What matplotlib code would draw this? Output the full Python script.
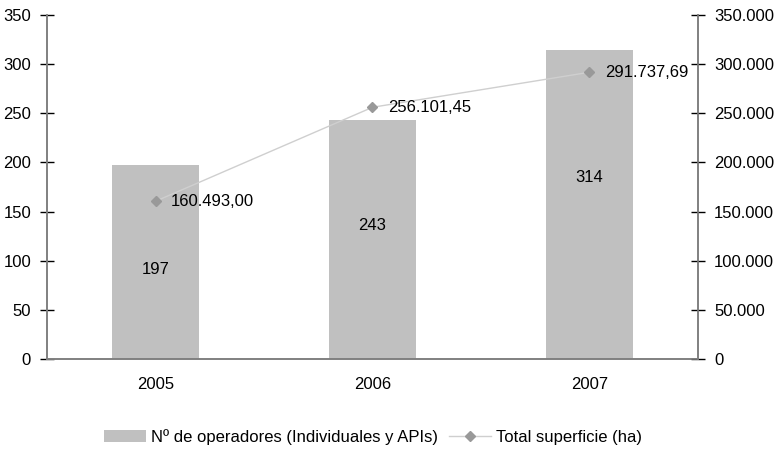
import numpy as np
import matplotlib.pyplot as plt
from matplotlib.ticker import FuncFormatter

plt.rcParams['font.family'] = ['Liberation Sans', 'DejaVu Sans']
plt.rcParams['font.size'] = 12

years = ['2005', '2006', '2007']
operadores = [197, 243, 314]
superficie = [160493.00, 256101.45, 291737.69]
superficie_txt = ['160.493,00', '256.101,45', '291.737,69']
# where the count labels sit inside the bars (left axis units)
op_label_y = [91, 136, 185]

grey = '#808080'

fig = plt.figure(figsize=(7.81, 4.5), dpi=100)
ax = fig.add_axes([0.0602, 0.2022, 0.8335, 0.7645])
ax2 = ax.twinx()

x = np.arange(len(years))
bars = ax.bar(x, operadores, width=0.4, color='#c0c0c0', zorder=1,
              label='Nº de operadores (Individuales y APIs)')
for xi, v, ly in zip(x, operadores, op_label_y):
    ax.text(xi, ly, str(v), ha='center', va='center', fontsize=12)

line, = ax2.plot(x, superficie, color='#cfcfcf', lw=1.0, marker='D',
                 markersize=5, markerfacecolor='#999999',
                 markeredgecolor='#999999', label='Total superficie (ha)')
for xi, v, t in zip(x, superficie, superficie_txt):
    ax2.text(xi + 0.07, v, t, ha='left', va='center', fontsize=12)

ax.set_xlim(-0.5, 2.5)
ax.set_ylim(0, 350)
ax.set_yticks(np.arange(0, 351, 50))
ax2.set_ylim(0, 350000)
ax2.set_yticks(np.arange(0, 350001, 50000))
ax2.yaxis.set_major_formatter(FuncFormatter(
    lambda v, p: '0' if v == 0 else '{:,.0f}'.format(v).replace(',', '.')))

ax.set_xticks(x)
ax.set_xticklabels(years)

for a in (ax, ax2):
    a.spines['top'].set_visible(False)
    for s in ('left', 'right', 'bottom'):
        a.spines[s].set_color(grey)
        a.spines[s].set_linewidth(1.2)
    a.tick_params(axis='y', direction='inout', length=10, width=1,
                  color='#000000', labelsize=12, pad=6.5)
ax.tick_params(axis='x', length=0, labelsize=12, pad=13)
ax2.set_zorder(ax.get_zorder() + 1)
ax2.patch.set_visible(False)

fig.legend([bars, line], [bars.get_label(), line.get_label()],
           loc='center', bbox_to_anchor=(373 / 781, 1 - 437 / 450), ncol=2, frameon=False,
           fontsize=12, handlelength=2.5, handletextpad=0.3, columnspacing=0.7)

fig.savefig('out.png', dpi=100)
